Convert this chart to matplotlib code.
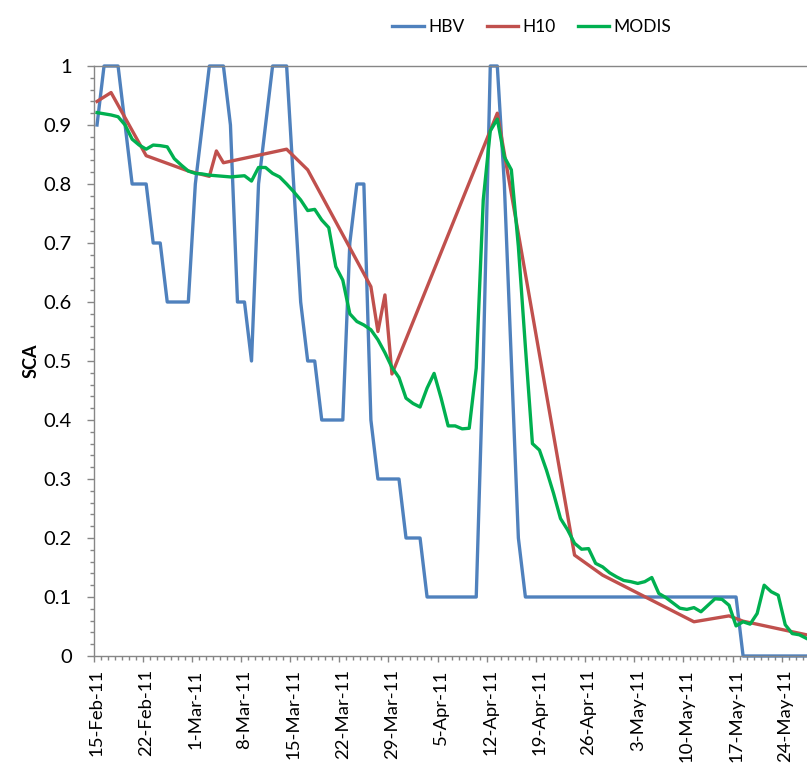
import matplotlib
matplotlib.use("Agg")
import matplotlib.pyplot as plt
from matplotlib.transforms import ScaledTranslation
from matplotlib.ticker import MultipleLocator
from matplotlib.lines import Line2D

plt.rcParams['font.family'] = ['Lato', 'DejaVu Sans']

# ---- data (day index 0 = 15-Feb-11) ----
days = list(range(102))

hbv = [0.9, 1.0, 1.0, 1.0, 0.9, 0.8, 0.8, 0.8, 0.7, 0.7,
       0.6, 0.6, 0.6, 0.6, 0.8, 0.9, 1.0, 1.0, 1.0, 0.9,
       0.6, 0.6, 0.5, 0.8, 0.9, 1.0, 1.0, 1.0, 0.8, 0.6,
       0.5, 0.5, 0.4, 0.4, 0.4, 0.4, 0.7, 0.8, 0.8, 0.4,
       0.3, 0.3, 0.3, 0.3, 0.2, 0.2, 0.2, 0.1, 0.1, 0.1,
       0.1, 0.1, 0.1, 0.1, 0.1, 0.5, 1.0, 1.0, 0.8, 0.5,
       0.2, 0.1, 0.1, 0.1, 0.1, 0.1, 0.1, 0.1, 0.1, 0.1,
       0.1, 0.1, 0.1, 0.1, 0.1, 0.1, 0.1, 0.1, 0.1, 0.1,
       0.1, 0.1, 0.1, 0.1, 0.1, 0.1, 0.1, 0.1, 0.1, 0.1,
       0.1, 0.1, 0.0, 0.0, 0.0, 0.0, 0.0, 0.0, 0.0, 0.0,
       0.0, 0.0]

modis = [0.921, 0.919, 0.917, 0.914, 0.900, 0.876, 0.866, 0.859, 0.866, 0.865,
         0.863, 0.843, 0.832, 0.822, 0.818, 0.817, 0.815, 0.814, 0.813, 0.812,
         0.813, 0.814, 0.805, 0.828, 0.828, 0.818, 0.812, 0.800, 0.787, 0.773,
         0.755, 0.757, 0.739, 0.726, 0.660, 0.637, 0.580, 0.567, 0.561, 0.553,
         0.536, 0.514, 0.489, 0.472, 0.437, 0.428, 0.422, 0.454, 0.479, 0.437,
         0.390, 0.390, 0.385, 0.386, 0.488, 0.773, 0.890, 0.910, 0.846, 0.824,
         0.694, 0.524, 0.360, 0.349, 0.315, 0.276, 0.233, 0.214, 0.191, 0.181,
         0.182, 0.157, 0.151, 0.141, 0.134, 0.128, 0.126, 0.123, 0.126, 0.133,
         0.106, 0.099, 0.090, 0.081, 0.079, 0.082, 0.075, 0.086, 0.097, 0.096,
         0.086, 0.051, 0.058, 0.054, 0.072, 0.120, 0.109, 0.103, 0.053, 0.038,
         0.036, 0.030]

h10_days = [0, 2, 7, 13, 16, 17, 18, 27, 30, 39, 40, 41, 42, 57, 68, 72, 85, 90, 92, 101]
h10 = [0.940, 0.955, 0.848, 0.822, 0.813, 0.856, 0.836, 0.859, 0.824, 0.626,
       0.550, 0.612, 0.478, 0.920, 0.171, 0.137, 0.058, 0.068, 0.059, 0.036]

label_days = [0, 7, 14, 21, 28, 35, 42, 49, 56, 63, 70, 77, 84, 91, 98]
date_labels = ['15-Feb-11', '22-Feb-11', '1-Mar-11', '8-Mar-11', '15-Mar-11',
               '22-Mar-11', '29-Mar-11', '5-Apr-11', '12-Apr-11', '19-Apr-11',
               '26-Apr-11', '3-May-11', '10-May-11', '17-May-11', '24-May-11']
yticks = [0, 0.1, 0.2, 0.3, 0.4, 0.5, 0.6, 0.7, 0.8, 0.9, 1.0]
ylabels = ['0', '0.1', '0.2', '0.3', '0.4', '0.5', '0.6', '0.7', '0.8', '0.9', '1']

series_names = ['HBV', 'H10', 'MODIS']
colors = ['#4F81BD', '#C0504D', '#00B050']

# ---- figure ----
W, H = 807, 764
fig = plt.figure(figsize=(W / 100, H / 100), dpi=100)
left, right, bottom, top = 93.5, 807, 656, 66
ax = fig.add_axes([left / W, 1 - bottom / H, (right - left) / W, (bottom - top) / H])

lw = 2.4
ax.plot(days, hbv, color=colors[0], lw=lw, clip_on=False)
ax.plot(h10_days, h10, color=colors[1], lw=lw, clip_on=False)
ax.plot(days, modis, color=colors[2], lw=lw, clip_on=False)

ax.set_xlim(-0.5, 101.1)
ax.set_ylim(0, 1)

gray = '#868686'
for s in ['left', 'bottom', 'top']:
    ax.spines[s].set_color(gray)
    ax.spines[s].set_linewidth(1.0)
ax.spines['right'].set_visible(False)

# x ticks: major at week boundaries, labels shifted to day centres
ax.set_xticks([d - 0.5 for d in label_days])
ax.set_xticklabels(date_labels, rotation=90)
ax.set_xticks([d - 0.5 for d in range(0, 102)], minor=True)
ax.tick_params(axis='x', which='major', length=4.5, width=1, color=gray,
               labelsize=13.3, pad=5, direction='out')
ax.tick_params(axis='x', which='minor', length=3.2, width=1, color=gray, direction='out')
shift = ScaledTranslation(3.5 / 100, 0, fig.dpi_scale_trans)
for lab in ax.get_xticklabels():
    lab.set_transform(lab.get_transform() + shift)

# y ticks
ax.set_yticks(yticks)
ax.set_yticklabels(ylabels)
ax.yaxis.set_minor_locator(MultipleLocator(0.02))
ax.tick_params(axis='y', which='major', length=5, width=1, color=gray,
               labelsize=14.5, pad=10.5, direction='out')
ax.tick_params(axis='y', which='minor', length=2.8, width=1, color=gray, direction='out')

fig.text(31 / W, 1 - 361 / H, 'SCA', rotation=90, fontweight='bold',
         fontsize=13, ha='center', va='center')

handles = [Line2D([], [], color=c, lw=lw) for c in colors]
fig.legend(handles, series_names, loc='center', bbox_to_anchor=(532 / W, 1 - 27 / H),
           ncol=3, frameon=False, fontsize=12.5, handlelength=1.8,
           handletextpad=0.25, columnspacing=1.3)

fig.savefig('out.png', dpi=100)
